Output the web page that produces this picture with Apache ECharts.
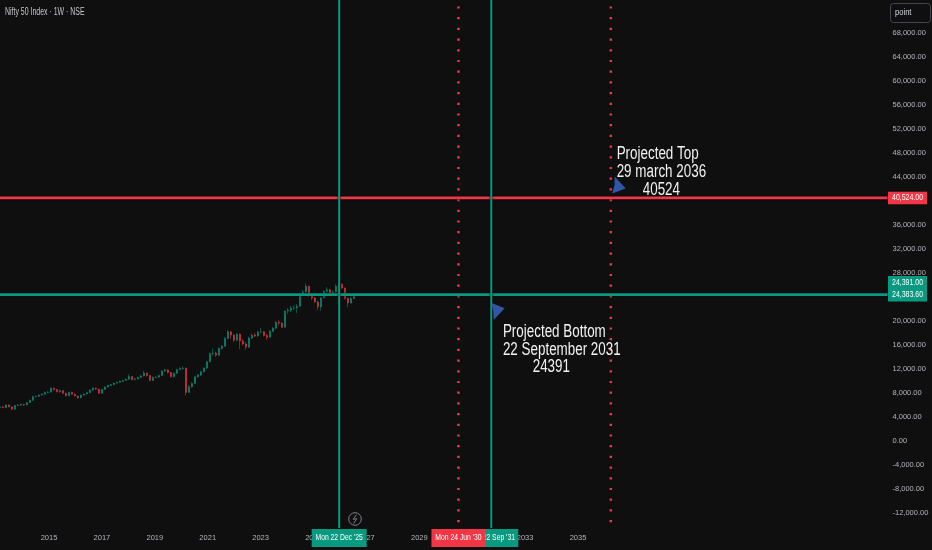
<!DOCTYPE html>
<html><head><meta charset="utf-8">
<style>html,body{margin:0;padding:0;background:#0f0f0f}#c{width:932px;height:550px}</style>
<script src="https://cdn.jsdelivr.net/npm/echarts@6/dist/echarts.min.js"></script>
</head><body><div id="c"></div>
<script>
const title = "Nifty 50 Index · 1W · NSE";
const firstCandleYear = 2013.15, candleStepYears = 0.1134;
const opens = [5600,5700,5550,6000,5700,5300,5900,6000,6100,6000,6400,6800,7400,7450,7650,7800,8100,8150,8800,8600,8200,8400,7950,7550,8100,7800,7500,7200,7650,7850,8050,8500,8800,8650,7950,8600,9000,9250,9400,9650,9800,9950,10100,10300,10750,10250,10350,10600,10850,11350,10900,10100,10600,10650,10900,11650,11850,11400,10700,11300,11900,12100,12150,8100,9050,9600,10700,11000,11550,12150,13200,14600,14650,14300,15450,15800,17100,18200,17650,16800,17800,16650,16150,15650,17150,17650,17500,18150,18200,17600,17300,18300,18800,19800,19650,18950,21650,21800,22150,22200,22450,24300,24850,25800,24300,23850,23150,22350,23850,24950,25200,24650,24850,25800,26150,25500,23800,23000,23750];
const closes = [5700,5550,6000,5700,5300,5900,6000,6100,6000,6400,6800,7400,7450,7650,7800,8100,8150,8800,8600,8200,8400,7950,7550,8100,7800,7500,7200,7650,7850,8050,8500,8800,8650,7950,8600,9000,9250,9400,9650,9800,9950,10100,10300,10750,10250,10350,10600,10850,11350,10900,10100,10600,10650,10900,11650,11850,11400,10700,11300,11900,12100,12150,8100,9050,9600,10700,11000,11550,12150,13200,14600,14650,14300,15450,15800,17100,18200,17650,16800,17800,16650,16150,15650,17150,17650,17500,18150,18200,17600,17300,18300,18800,19800,19650,18950,21650,21800,22150,22200,22450,24300,24850,25800,24300,23850,23150,22350,23850,24950,25200,24650,24850,25800,26150,25500,23800,23000,23750,24383];
const lows = [5500,5450,5500,5600,5200,5250,5800,5900,5850,5950,6350,6700,7250,7350,7550,7700,7950,8100,8450,8100,8050,7850,7450,7450,7700,7400,7000,7100,7550,7750,8000,8400,8500,7900,7900,8550,8900,9150,9300,9550,9700,9850,10000,10250,10100,10100,10250,10500,10750,10700,9950,10000,10450,10550,10850,11550,11250,10600,10600,11200,11800,11900,7550,8050,8900,9550,10550,10850,11450,12050,13100,14200,14000,14200,15200,15700,17000,17000,16500,16700,15300,15900,15200,15500,17000,17300,17350,18000,17400,16850,17200,18200,18700,19300,18850,18900,21200,21500,21800,21300,22400,24200,24700,24000,23500,23000,21800,21750,23800,24800,24400,24400,24700,25600,25300,23600,22300,22900,23600];
const highs = [5800,5800,6100,6100,5750,6000,6100,6250,6200,6500,6900,7550,7600,7800,7950,8250,8350,8950,8950,8700,8550,8500,8050,8200,8250,7900,7600,7750,7950,8150,8600,8950,8950,8700,8700,9100,9350,9500,9750,9900,10100,10200,10450,11100,10800,10500,10750,11000,11700,11400,11000,10750,10800,11050,11850,12050,11950,11500,11400,12050,12300,12450,12250,9300,9800,10850,11200,11700,12300,13350,14750,15400,14900,15600,16000,17300,18500,18350,17800,18000,17950,17000,16500,17400,17900,18000,18400,18850,18300,17800,18500,19000,20000,20200,19800,21800,22200,22500,22600,22800,24500,25200,26250,25900,24500,24000,23400,24000,25100,25650,25350,25100,26100,26350,26300,25600,23900,24000,24600];

const yearTickLabels = ["2015","2017","2019","2021","2023","2025","2027","2029","2031","2033","2035"];
const resistanceLevel = 40524, supportLevel = 24391, lastPrice = 24383.6;
const greenDates = [2025.97, 2031.72];
const redDates = [2030.48, 2036.24];
const greenDateLabels = ["Mon 22 Dec '25", "Mon 22 Sep '31"];
const redDateLabels = ["Mon 24 Jun '30"];
const topNote = "Projected Top\n29 march 2036\n       40524";
const bottomNote = "Projected Bottom\n22 September 2031\n        24391";
const topNoteAt = [2036.46, 44830], bottomNoteAt = [2032.16, 15180];
const topArrowAt = [2036.55, 42670], bottomArrowAt = [2031.98, 21570];

const GREEN = "#089981", RED = "#f23645", BG = "#0f0f0f", TXT = "#b2b5be";
const FONT = "'Liberation Sans',sans-serif";
const XMIN = 2013, XMAX = 2046.7, YMIN = -16000, YMAX = 76000, YCLIP = -14500;

const candles = closes.map((c, i) => [firstCandleYear + i * candleStepYears, opens[i], c, lows[i], highs[i]]);
const fmt = v => v.toLocaleString("en-US", {minimumFractionDigits: 2, maximumFractionDigits: 2});
const halo = {shadowColor:"#000", shadowBlur:2};
const hLine = (v, color) => ({type:"line", silent:true, symbol:"none", z:5, data:[[XMIN,v],[XMAX,v]], lineStyle:Object.assign({color, width:2.6}, halo)});
const vLine = (x, color, dotted) => ({type:"line", silent:true, symbol:"none", z:dotted?4:5, data:[[x,YMAX],[x,YCLIP]],
  lineStyle: dotted ? {color, width:2.5, type:[2.2,8.5]} : Object.assign({color, width:2}, halo)});
const arrow = (at, path, size) => ({type:"scatter", silent:true, z:7, data:[at], symbol:path, symbolSize:size, symbolKeepAspect:false, itemStyle:{color:"#3156a8", opacity:1}});

const chart = echarts.init(document.getElementById("c"), null, {renderer:"canvas"});
chart.setOption({
  backgroundColor: BG,
  animation: false,
  grid: {left:-3.9, top:-15, width:891.4, height:552, containLabel:false, outerBoundsMode:"none"},
  xAxis: {type:"value", min:XMIN, max:XMAX, interval:2, splitLine:{show:false}, axisLine:{show:false}, axisTick:{show:false},
    axisLabel:{margin:-3, color:TXT, fontFamily:FONT, fontSize:7.5, showMinLabel:true, showMaxLabel:false,
      formatter:v => yearTickLabels.includes(String(v)) ? String(v) : ""}},
  yAxis: {type:"value", position:"right", min:YMIN, max:YMAX, interval:4000, splitLine:{show:false}, axisLine:{show:false}, axisTick:{show:false},
    axisLabel:{margin:5, color:TXT, fontFamily:FONT, fontSize:7.5, formatter:v => (v > 68000 || v < -12000) ? "" : fmt(v)}},
  series: [
    {type:"candlestick", silent:true, z:3, barWidth:2, data:candles, encode:{x:0, y:[1,2,3,4]},
      itemStyle:{color:GREEN, color0:RED, borderColor:GREEN, borderColor0:RED, borderWidth:0.5}},
    hLine(resistanceLevel, RED), hLine(supportLevel, GREEN),
    ...greenDates.map(d => vLine(d, GREEN, false)),
    ...redDates.map(d => vLine(d, RED, true)),
    arrow(topArrowAt, "path://M2.3 0L13 11.6L0 16.3L2.2 8Z", [13.5,17]),
    arrow(bottomArrowAt, "path://M0 0L12.7 5L2 16.7L1.6 8Z", [13,17])
  ]
});

const px = x => chart.convertToPixel({xAxisIndex:0}, x);
const py = v => chart.convertToPixel({yAxisIndex:0}, v);
const scaledText = (x, y, text, fill, size, sx, z, extra) => ({type:"text", z, x, y, scaleX:sx,
  style:Object.assign({x:0, y:0, text, fill, font:size+"px "+FONT, textVerticalAlign:"middle"}, extra||{})});
const note = (at, text) => scaledText(px(at[0]), py(at[1]), text, "#f2f2f2", 18, 0.745, 90, {lineHeight:17.6});
const dateBadge = (d, label, color, w, z) => {
  const cx = px(d);
  return [
    {type:"rect", z, shape:{x:cx-w/2, y:529, width:w, height:18}, style:{fill:color}},
    scaledText(cx, 538, label, "#fff", 8.5, 0.8, z+1, {textAlign:"center"})
  ];
};
const priceBadge = (y, h, color) => ({type:"rect", z:100, shape:{x:888, y, width:39, height:h}, style:{fill:color}});
const priceText = (y, v) => scaledText(892, y, fmt(v), "#fff", 8.5, 0.82, 101);

chart.setOption({graphic:{elements:[
  note(topNoteAt, topNote), note(bottomNoteAt, bottomNote),
  scaledText(5, 12, title, "#c4c6cc", 10, 0.695, 100),
  {type:"rect", z:100, shape:{x:890.5, y:3.5, width:40, height:19, r:3}, style:{fill:BG, stroke:"#434651", lineWidth:1}},
  scaledText(895, 12.5, "point", "#d1d4dc", 9.5, 0.8, 101),
  priceBadge(py(resistanceLevel)-6, 12.5, RED), priceText(py(resistanceLevel), resistanceLevel),
  priceBadge(276, 25.5, GREEN), priceText(282.5, supportLevel), priceText(295, lastPrice),
  {type:"circle", z:100, shape:{cx:355, cy:519, r:6.3}, style:{fill:BG, stroke:"#7d8089", lineWidth:1}},
  {type:"polyline", z:101, shape:{points:[[356.5,514.5],[353.2,519.3],[356.8,518.7],[353.5,523.5]]}, style:{stroke:"#7d8089", lineWidth:1, fill:null}},
  ...dateBadge(greenDates[1], greenDateLabels[1], GREEN, 54, 100),
  ...dateBadge(redDates[0], redDateLabels[0], RED, 54, 102),
  ...dateBadge(greenDates[0], greenDateLabels[0], GREEN, 55, 100)
]}});
</script></body></html>
